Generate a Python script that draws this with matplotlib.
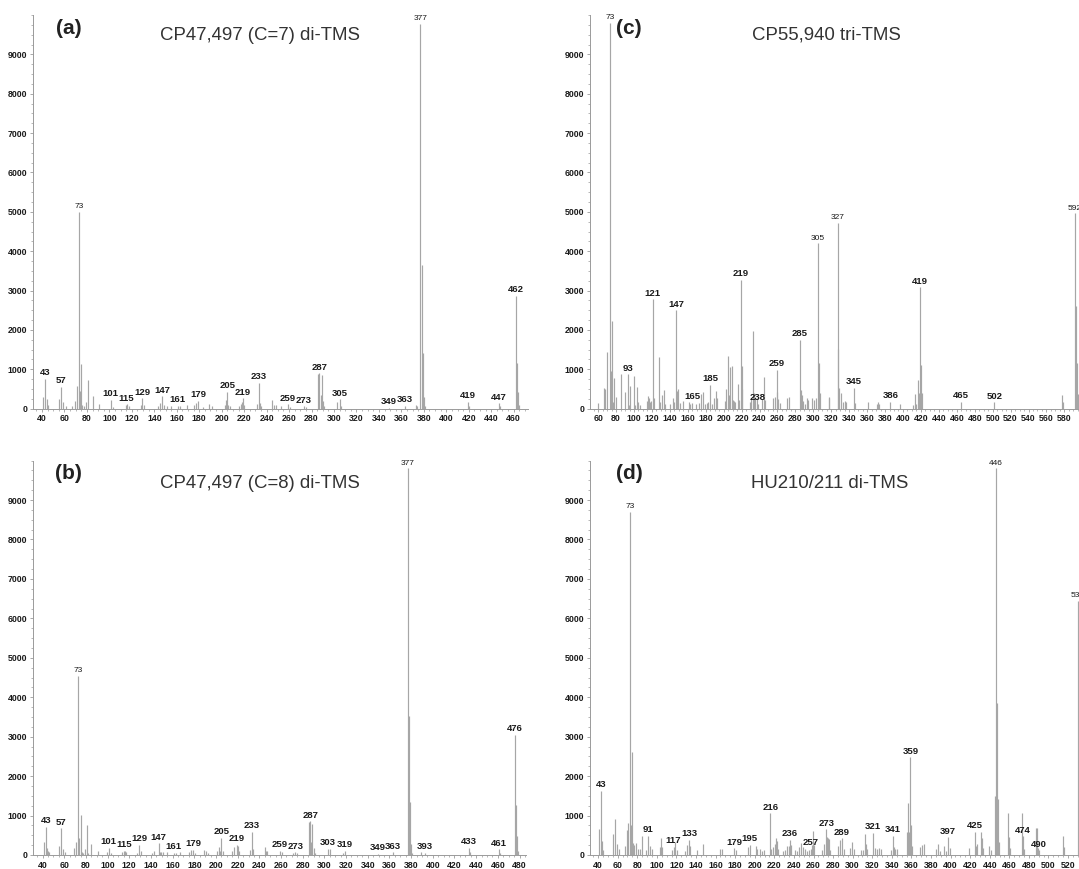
import matplotlib.pyplot as plt
from matplotlib.ticker import MultipleLocator

plt.rcParams['font.family'] = ['Liberation Sans', 'DejaVu Sans']

# (a) CP47,497 (C=7) di-TMS
a_mz = [41, 43, 44, 45, 55, 57, 59, 61, 67, 69, 71, 73, 74, 75, 76, 77, 79, 81, 85, 91,
        101, 103, 115, 116, 117, 128, 129, 131, 143, 145, 147, 149, 151, 155, 161, 163, 169,
        175, 177, 179, 183, 189, 191, 203, 204, 205, 206, 207, 215, 217, 218, 219, 220,
        231, 233, 234, 235, 245, 247, 248, 253, 259, 261, 273, 275,
        286, 287, 288, 289, 290, 291, 303, 305, 306, 349, 363, 373, 374,
        377, 378, 379, 380, 381, 419, 420, 447, 448, 462, 463, 464, 465]
a_int = [290, 760, 240, 90, 240, 560, 180, 70, 60, 200, 570, 5000, 460, 1130, 100, 60, 170, 730, 320, 110,
         220, 50, 100, 130, 80, 90, 260, 100, 80, 140, 310, 90, 70, 70, 70, 60, 100,
         90, 140, 200, 50, 130, 80, 100, 210, 420, 100, 80, 80, 130, 180, 260, 90,
         130, 660, 150, 60, 220, 90, 90, 60, 110, 50, 60, 50,
         880, 900, 350, 860, 190, 70, 170, 240, 70, 30, 80, 100, 60,
         9780, 3660, 1420, 300, 60, 180, 70, 140, 60, 2870, 1170, 420, 90]
a_lab = [43, 57, 73, 101, 115, 129, 147, 161, 179, 205, 219, 233, 259, 273, 287, 305,
         349, 363, 377, 419, 447, 462]

# (b) CP47,497 (C=8) di-TMS
b_mz = [41, 43, 44, 45, 46, 55, 57, 59, 61, 69, 71, 73, 74, 75, 76, 77, 79, 81, 82, 85, 91, 99,
        101, 103, 113, 115, 116, 117, 127, 129, 131, 141, 143, 147, 148, 149, 151, 155,
        161, 163, 167, 175, 177, 179, 181, 189, 191, 193, 201, 203, 204, 205, 206,
        215, 217, 219, 220, 221, 231, 233, 234, 245, 246, 247, 259, 261, 271, 273, 275,
        286, 287, 288, 289, 290, 291, 303, 305, 317, 319, 349, 363,
        377, 378, 379, 380, 381, 389, 393, 433, 434, 461, 462, 476, 477, 478, 479]
b_int = [320, 720, 180, 90, 70, 240, 680, 150, 80, 170, 320, 4550, 420, 1010, 80, 60, 150, 760, 60, 290, 110, 80,
         190, 40, 80, 110, 90, 70, 60, 250, 110, 60, 90, 300, 70, 80, 80, 70,
         60, 60, 80, 80, 130, 130, 60, 130, 100, 60, 100, 200, 100, 430, 100,
         100, 200, 260, 240, 100, 130, 590, 140, 200, 90, 100, 110, 80, 60, 70, 60,
         830, 850, 320, 780, 180, 60, 150, 150, 60, 110, 30, 70,
         9800, 3530, 1350, 280, 60, 80, 60, 190, 70, 140, 60, 3050, 1280, 490, 110]
b_lab = [43, 57, 73, 101, 115, 129, 147, 161, 179, 205, 219, 233, 259, 273, 287, 303, 319,
         349, 363, 377, 393, 433, 461, 476]

# (c) CP55,940 tri-TMS
c_mz = [60, 67, 68, 70, 73, 74, 75, 76, 77, 78, 80, 85, 90, 93, 94, 95, 100, 101, 103, 105, 107,
        115, 116, 117, 118, 119, 121, 122, 128, 129, 131, 133, 135, 140, 143, 145, 147, 148, 149, 151,
        155, 161, 163, 165, 169, 173, 175, 177, 179, 181, 183, 185, 187, 189, 191, 193,
        201, 203, 205, 206, 207, 209, 210, 211, 213, 216, 217, 219, 220, 221,
        229, 231, 233, 234, 235, 237, 238, 243, 245, 246, 255, 257, 259, 260, 261, 263, 271, 273,
        285, 286, 287, 289, 291, 293, 294, 299, 301, 303, 305, 306, 307, 317, 318,
        327, 328, 329, 331, 333, 335, 337, 345, 346, 361, 371, 372, 373, 386, 397,
        411, 413, 414, 417, 418, 419, 420, 421, 465, 502, 577, 578, 592, 593, 594, 595]
c_int = [140, 530, 500, 1440, 9800, 950, 2230, 150, 170, 780, 290, 880, 420, 870, 100, 570, 820, 100, 550, 160, 100,
         200, 320, 260, 160, 200, 2780, 280, 1320, 160, 340, 480, 120, 120, 270, 180, 2500, 450, 500, 150,
         190, 180, 120, 150, 130, 150, 370, 420, 120, 140, 160, 600, 130, 270, 450, 270,
         190, 510, 1330, 350, 1070, 1080, 230, 200, 170, 640, 220, 3270, 1090, 500,
         180, 280, 1980, 400, 300, 270, 120, 250, 800, 230, 280, 300, 980, 430, 250, 150, 280, 290,
         1750, 470, 350, 200, 130, 270, 220, 270, 230, 270, 4200, 1160, 400, 300, 280,
         4720, 1510, 520, 390, 160, 200, 180, 530, 150, 180, 110, 160, 110, 180, 130,
         100, 370, 130, 720, 400, 3080, 1100, 400, 180, 160, 340, 160, 4960, 2600, 1160, 380]
c_lab = [73, 93, 121, 147, 165, 185, 219, 238, 259, 285, 305, 327, 345, 386, 419, 465, 502, 592]

# (d) HU210/211 di-TMS
d_mz = [41, 43, 44, 45, 55, 57, 59, 61, 67, 69, 71, 73, 74, 75, 76, 77, 79, 81, 83, 85, 89,
        91, 93, 95, 103, 104, 105, 115, 117, 119, 121, 129, 131, 133, 134, 141, 147, 165, 167,
        179, 181, 193, 195, 201, 202, 205, 207, 209, 216, 217, 219, 221, 222, 223, 224,
        229, 231, 233, 235, 236, 237, 241, 243, 245, 247, 249, 251, 253, 255, 257, 258, 259, 261,
        269, 271, 273, 274, 275, 276, 277, 285, 287, 289, 291, 297, 299, 301,
        309, 311, 313, 314, 315, 321, 323, 325, 327, 329, 339, 341, 342, 343, 345,
        355, 357, 358, 359, 360, 361, 369, 371, 373, 385, 387, 389, 393, 395, 397, 399,
        419, 425, 426, 427, 431, 432, 433, 439, 441, 445, 446, 447, 448, 449,
        459, 460, 461, 473, 474, 475, 487, 488, 489, 490, 515, 516, 530, 531]
d_int = [650, 1620, 360, 130, 520, 920, 290, 140, 230, 630, 800, 8700, 750, 2600, 300, 250, 310, 140, 160, 470, 130,
         480, 220, 160, 200, 430, 200, 120, 200, 330, 120, 110, 250, 380, 230, 120, 270, 140, 140,
         170, 120, 200, 250, 240, 160, 150, 110, 120, 1060, 150, 200, 280, 420, 350, 140,
         100, 120, 220, 230, 380, 260, 120, 100, 200, 300, 200, 150, 110, 120, 160, 250, 610, 260,
         130, 280, 650, 450, 420, 400, 120, 230, 380, 420, 150, 170, 330, 150,
         120, 130, 520, 290, 140, 560, 170, 140, 190, 140, 120, 480, 200, 150, 150,
         580, 1310, 580, 2480, 750, 230, 200, 250, 270, 150, 280, 100, 220, 110, 450, 170,
         170, 590, 230, 270, 590, 420, 170, 240, 130, 1490, 9800, 3850, 1430, 320,
         1060, 450, 170, 1070, 470, 150, 680, 680, 170, 120, 490, 200, 6450, 2620]
d_lab = [43, 73, 91, 117, 133, 179, 195, 216, 236, 257, 273, 289, 321, 341, 359, 397, 425,
         446, 474, 490, 530]

titles = ['CP47,497 (C=7) di-TMS', 'CP47,497 (C=8) di-TMS', 'CP55,940 tri-TMS', 'HU210/211 di-TMS']
letters = ['(a)', '(b)', '(c)', '(d)']

W, H = 1079, 869
fig = plt.figure(figsize=(W / 100, H / 100), dpi=100)


def px_axes(x0, x1, ytop, ybot):
    return fig.add_axes([x0 / W, (H - ybot) / H, (x1 - x0) / W, (ybot - ytop) / H])


def draw(ax, mz, inten, labs, xlim, xt):
    ax.vlines(mz, 0, inten, colors='#a6a6a6', linewidth=0.85)
    lookup = dict(zip(mz, inten))
    for m in labs:
        v = lookup[m]
        big = v > 3600
        ax.annotate(str(m), (m, v), xytext=(0, 1.2), textcoords='offset points',
                    ha='center', va='bottom', fontsize=6.0 if big else 6.8,
                    fontweight='normal' if big else 'bold', color='#1a1a1a')
    ax.set_xlim(*xlim)
    ax.set_ylim(0, 10000)
    ax.set_xticks(xt)
    ax.xaxis.set_minor_locator(MultipleLocator(5))
    ax.set_yticks(range(0, 10000, 1000))
    ax.yaxis.set_minor_locator(MultipleLocator(250))
    for s in ['top', 'right']:
        ax.spines[s].set_visible(False)
    for s in ['left', 'bottom']:
        ax.spines[s].set_color('#9a9a9a')
        ax.spines[s].set_linewidth(0.7)
    ax.tick_params(which='major', length=2.5, width=0.6, color='#9a9a9a', labelsize=6.3,
                   labelcolor='#1a1a1a', pad=1.5)
    ax.tick_params(which='minor', length=1.3, width=0.5, color='#9a9a9a')
    for t in ax.get_xticklabels() + ax.get_yticklabels():
        t.set_fontweight('bold')


# layout in pixels (top/bottom panels share vertical placement)
ax_a = px_axes(32.6, 527.5, 15, 408.7)
ax_b = px_axes(32.6, 525.8, 460.6, 855)
c_x1 = 589.8 + (607.5 - 50.7) * 0.8966
d_x1 = 589.8 + (543.3 - 31.5) * 0.979
ax_c = px_axes(589.8, c_x1, 15, 408.7)
ax_d = px_axes(589.8, d_x1, 460.6, 855)

draw(ax_a, a_mz, a_int, a_lab, (31.6, 472.3), range(40, 461, 20))
draw(ax_b, b_mz, b_int, b_lab, (30.8, 485.8), range(40, 481, 20))
draw(ax_c, c_mz, c_int, c_lab, (50.7, 607.5), range(60, 581, 20))
draw(ax_d, d_mz, d_int, d_lab, (31.5, 543.3), range(40, 521, 20))

# titles and panel letters (figure pixel coordinates)
for t, l, tx, lx, ty, ly in [(titles[0], letters[0], 260, 68.7, 35, 28.3),
                             (titles[1], letters[1], 260, 68.7, 483.3, 473.3),
                             (titles[2], letters[2], 826, 629, 35, 28.3),
                             (titles[3], letters[3], 830, 629, 483.3, 473.3)]:
    fig.text(tx / W, 1 - ty / H, t, ha='center', va='center', fontsize=13.4, color='#333333')
    fig.text(lx / W, 1 - ly / H, l, ha='center', va='center', fontsize=15, fontweight='bold',
             color='#222222')

fig.savefig('out.png', dpi=100)
